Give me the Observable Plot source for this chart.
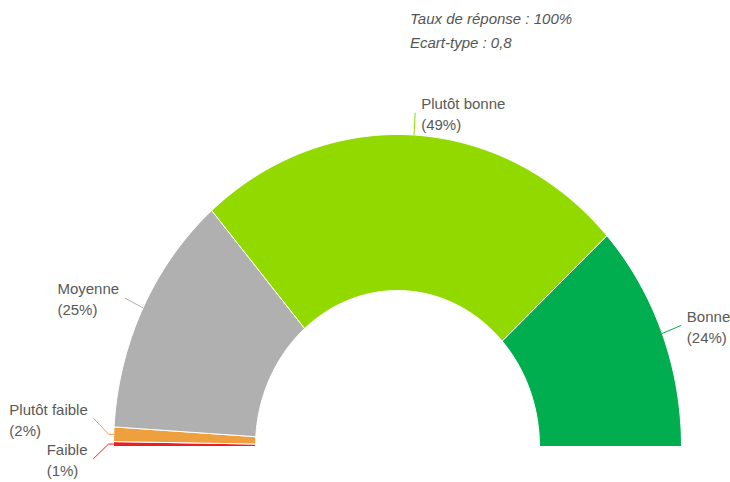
<!DOCTYPE html>
<html><head><meta charset="utf-8">
<script src="https://cdn.jsdelivr.net/npm/d3@7"></script>
<script src="https://cdn.jsdelivr.net/npm/@observablehq/plot@0.6"></script>
<style>
html,body{margin:0;padding:0;background:#fff;}
#wrap{position:relative;width:730px;height:482px;}
#title{position:absolute;left:410px;top:7px;font:italic 15px "Liberation Sans",Arial,sans-serif;line-height:24px;color:#555;}
#chart{position:absolute;left:0;top:0;}
</style></head><body>
<div id="wrap"><div id="chart"></div><div id="title"></div></div>
<script>
// ---- data ----
const categories = ["Faible", "Plutôt faible", "Moyenne", "Plutôt bonne", "Bonne"];
const values = [0.5, 1.5, 25.3, 49.1, 23.6];
const colors = ["#ee1d23", "#ee9f3e", "#b0b0b0", "#92d900", "#00ae50"];
const titleLines = ["Taux de réponse : 100%", "Ecart-type : 0,8"];

// ---- layout ----
const CX = 397, BASE = 446, RX = 284, RY = 312, INNER = 0.5;
const FONT = "15px 'Liberation Sans', Arial, sans-serif";
const LEAD = 20 / RX;   // radial leader length (units)
const GAP = 6;          // px between leader end and label
const MIN_SPACING = 40; // px between label centers

const total = d3.sum(values);
const rows = [];
let acc = 0;
values.forEach((v, i) => {
  const t0 = acc / total * Math.PI, t1 = (acc + v) / total * Math.PI;
  acc += v;
  rows.push({cat: categories[i], value: v, t0, t1, pct: Math.round(v / total * 100)});
});
const pt = (t, r) => ({x: r * Math.cos(Math.PI - t), y: r * Math.sin(Math.PI - t)});

// polygons
const poly = [];
for (const r of rows) {
  const n = Math.max(2, Math.ceil((r.t1 - r.t0) / (Math.PI / 360)));
  const pts = [];
  for (let k = 0; k <= n; k++) pts.push(pt(r.t0 + (r.t1 - r.t0) * k / n, 1));
  for (let k = n; k >= 0; k--) pts.push(pt(r.t0 + (r.t1 - r.t0) * k / n, INNER));
  pts.push(pts[0]);
  for (const p of pts) poly.push({cat: r.cat, ...p});
}

// labels
const ctx = document.createElement("canvas").getContext("2d");
ctx.font = FONT;
const labs = rows.map(r => {
  const tm = (r.t0 + r.t1) / 2;
  const edge = pt(tm, 1);
  const end = pt(tm, 1 + LEAD);
  const right = Math.cos(Math.PI - tm) >= 0;
  const lines = [r.cat, `(${r.pct}%)`];
  const w = d3.max(lines, s => ctx.measureText(s).width);
  return {r, edge, end, right, lines, w, ypx: BASE - end.y * RY, nat: BASE - end.y * RY};
});
// avoid overlap per side
for (const side of [true, false]) {
  const L = labs.filter(d => d.right === side).sort((a, b) => a.nat - b.nat);
  let clusters = L.map(d => ({items: [d], c: d.nat}));
  let changed = true;
  while (changed) {
    changed = false;
    for (let i = 0; i < clusters.length - 1; i++) {
      const A = clusters[i], B = clusters[i + 1];
      const aBottom = A.c + (A.items.length - 1) * MIN_SPACING / 2;
      const bTop = B.c - (B.items.length - 1) * MIN_SPACING / 2;
      if (bTop - aBottom < MIN_SPACING) {
        const items = A.items.concat(B.items);
        clusters.splice(i, 2, {items, c: d3.mean(items, d => d.nat)});
        changed = true; break;
      }
    }
  }
  for (const c of clusters) c.items.forEach((d, k) => d.ypx = c.c + (k - (c.items.length - 1) / 2) * MIN_SPACING);
}
const leaders = [], texts = [];
for (const d of labs) {
  const endY = (BASE - d.ypx) / RY;
  const pushed = Math.abs(d.ypx - d.nat) > 1;
  const pts = [d.edge];
  if (pushed) pts.push({x: d.edge.x + (d.right ? 5 : -5) / RX, y: d.edge.y});
  pts.push({x: d.end.x, y: endY});
  for (const p of pts) leaders.push({cat: d.r.cat, ...p});
  const tx = d.right ? d.end.x + GAP / RX : d.end.x - (GAP + d.w) / RX;
  texts.push({x: tx, y: endY, text: d.lines.join("\n")});
}

const chart = Plot.plot({
  width: 730, height: 482, margin: 0,
  style: {fontFamily: "'Liberation Sans', Arial, sans-serif", background: "white"},
  x: {domain: [-1, 1], range: [CX - RX, CX + RX], axis: null},
  y: {domain: [0, 1], range: [BASE, BASE - RY], axis: null},
  color: {domain: categories, range: colors},
  marks: [
    Plot.line(poly, {x: "x", y: "y", z: "cat", fill: "cat", stroke: "white", strokeWidth: 1, strokeLinejoin: "round", curve: "linear"}),
    Plot.line(leaders, {x: "x", y: "y", z: "cat", stroke: "cat", strokeWidth: 1, curve: "linear"}),
    Plot.text(texts, {x: "x", y: "y", text: "text", textAnchor: "start", lineAnchor: "middle", lineHeight: 1.4, fontSize: 15, fill: "#595959"})
  ]
});
document.getElementById("chart").appendChild(chart);
document.getElementById("title").innerHTML = titleLines.map(s => `<div>${s}</div>`).join("");
</script>
</body></html>
